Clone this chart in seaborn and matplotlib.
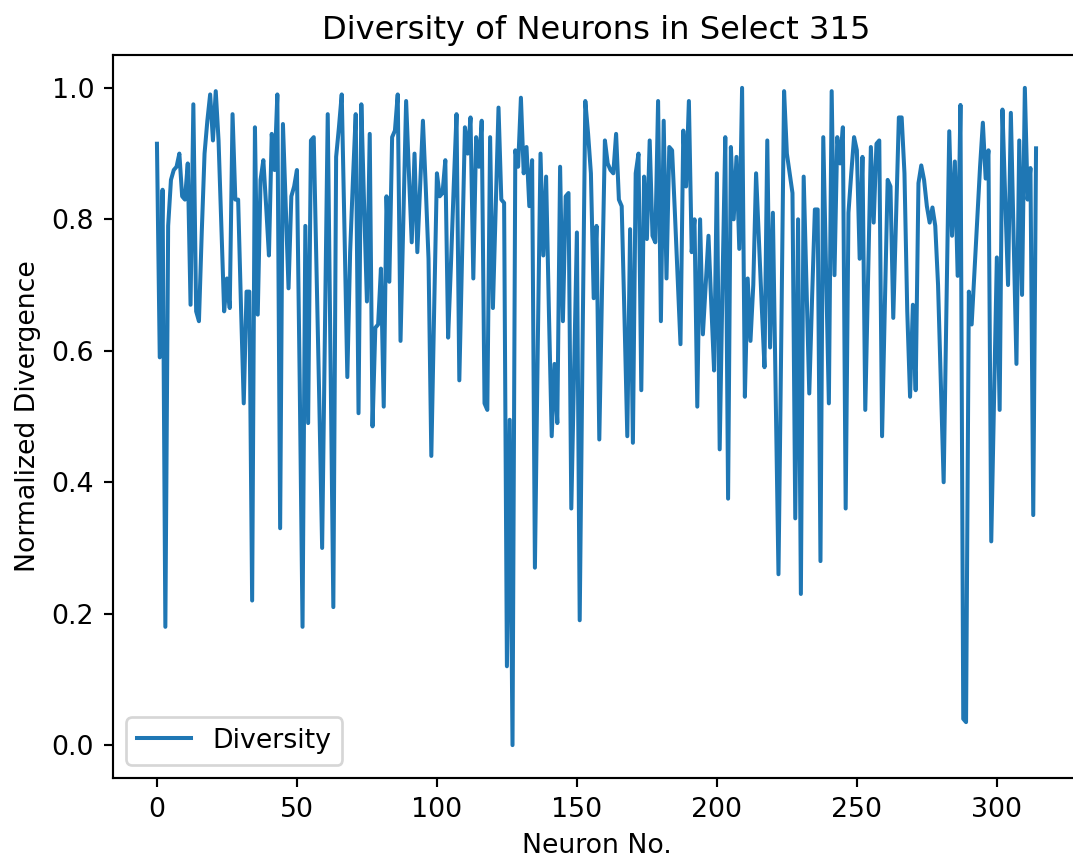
import numpy as np
import pandas as pd
import matplotlib
matplotlib.use("Agg")
import matplotlib.pyplot as plt
import seaborn as sns

# Normalized divergence per neuron (index 0..314)
diversity = [
    0.915, 0.59, 0.845, 0.18, 0.79, 0.86, 0.875, 0.88, 0.90, 0.835,
    0.83, 0.885, 0.67, 0.975, 0.66, 0.645, 0.78, 0.90, 0.95, 0.99,
    0.92, 0.995, 0.92, 0.79, 0.66, 0.71, 0.665, 0.96, 0.83, 0.83,
    0.67, 0.52, 0.69, 0.69, 0.22, 0.94, 0.655, 0.86, 0.89, 0.82,
    0.745, 0.93, 0.875, 0.99, 0.33, 0.945, 0.82, 0.695, 0.835, 0.85,
    0.875, 0.55, 0.18, 0.79, 0.49, 0.92, 0.925, 0.72, 0.52, 0.30,
    0.63, 0.96, 0.59, 0.21, 0.895, 0.94, 0.99, 0.78, 0.56, 0.75,
    0.86, 0.96, 0.505, 0.975, 0.82, 0.675, 0.93, 0.485, 0.635, 0.64,
    0.725, 0.515, 0.835, 0.705, 0.925, 0.935, 0.99, 0.615, 0.80, 0.98,
    0.87, 0.765, 0.90, 0.75, 0.85, 0.95, 0.85, 0.74, 0.44, 0.66,
    0.87, 0.835, 0.84, 0.89, 0.62, 0.73, 0.85, 0.96, 0.555, 0.75,
    0.94, 0.90, 0.955, 0.71, 0.925, 0.88, 0.95, 0.52, 0.51, 0.925,
    0.665, 0.82, 0.97, 0.83, 0.825, 0.12, 0.495, 0.0, 0.905, 0.88,
    0.985, 0.87, 0.91, 0.82, 0.89, 0.27, 0.60, 0.90, 0.745, 0.865,
    0.66, 0.47, 0.58, 0.49, 0.88, 0.645, 0.835, 0.84, 0.36, 0.57,
    0.78, 0.19, 0.60, 0.98, 0.93, 0.87, 0.68, 0.79, 0.465, 0.70,
    0.92, 0.885, 0.875, 0.87, 0.93, 0.83, 0.82, 0.65, 0.47, 0.785,
    0.46, 0.87, 0.90, 0.54, 0.865, 0.77, 0.92, 0.775, 0.765, 0.98,
    0.645, 0.95, 0.71, 0.91, 0.905, 0.81, 0.71, 0.61, 0.935, 0.85,
    0.98, 0.75, 0.80, 0.515, 0.80, 0.625, 0.70, 0.775, 0.67, 0.57,
    0.87, 0.45, 0.70, 0.925, 0.375, 0.91, 0.80, 0.895, 0.755, 1.0,
    0.53, 0.71, 0.615, 0.70, 0.87, 0.77, 0.67, 0.575, 0.92, 0.605,
    0.81, 0.53, 0.26, 0.62, 0.995, 0.90, 0.87, 0.84, 0.345, 0.80,
    0.23, 0.865, 0.70, 0.535, 0.68, 0.815, 0.815, 0.28, 0.925, 0.72,
    0.52, 0.995, 0.715, 0.925, 0.885, 0.94, 0.36, 0.81, 0.87, 0.925,
    0.905, 0.74, 0.895, 0.51, 0.71, 0.91, 0.795, 0.915, 0.92, 0.47,
    0.67, 0.86, 0.85, 0.65, 0.80, 0.955, 0.955, 0.87, 0.66, 0.53,
    0.67, 0.54, 0.855, 0.882, 0.86, 0.82, 0.795, 0.818, 0.79, 0.70,
    0.55, 0.40, 0.67, 0.934, 0.775, 0.888, 0.714, 0.974, 0.04, 0.035,
    0.69, 0.64, 0.72, 0.80, 0.88, 0.947, 0.862, 0.905, 0.31, 0.53,
    0.742, 0.51, 0.967, 0.83, 0.70, 0.962, 0.77, 0.58, 0.92, 0.685,
    1.0, 0.83, 0.878, 0.35, 0.908,
]
neuron_no = np.arange(len(diversity))

title = "Diversity of Neurons in Select 315"
x_label = "Neuron No."
y_label = "Normalized Divergence"
series_label = "Diversity"

df = pd.DataFrame({"neuron": neuron_no, "divergence": diversity})

W, H, DPI = 1073, 861, 193
fig = plt.figure(figsize=(W / DPI, H / DPI), dpi=DPI)
# the axes run slightly past the right edge of the canvas
ax = fig.add_axes([113 / W, 1 - 778 / H, (1080 - 113) / W, (778 - 55) / H])

sns.lineplot(data=df, x="neuron", y="divergence", ax=ax,
             color="#1f77b4", linewidth=1.5, label=series_label)

ax.set_title(title, fontsize=12)
ax.set_xlabel(x_label, fontsize=10)
ax.set_ylabel(y_label, fontsize=10)
ax.set_xticks([0, 50, 100, 150, 200, 250, 300])
ax.set_yticks([0.0, 0.2, 0.4, 0.6, 0.8, 1.0])
ax.legend(loc="lower left", fontsize=10)

fig.savefig("out.png", dpi=DPI)
